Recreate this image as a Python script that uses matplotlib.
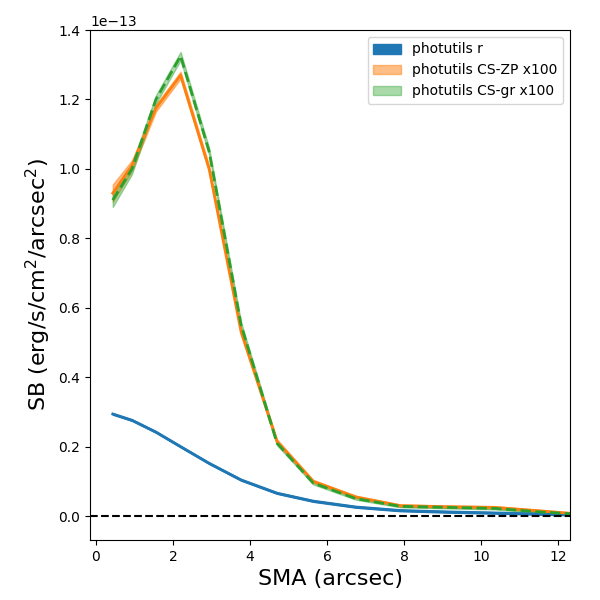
import matplotlib
matplotlib.use("Agg")
import matplotlib.pyplot as plt
import numpy as np

sma = [0.44, 0.94, 1.56, 2.2, 2.94, 3.77, 4.7, 5.64, 6.75, 7.9, 9.1, 10.35, 11.5, 12.4]
sb_r = [0.294, 0.276, 0.242, 0.2, 0.152, 0.104, 0.066, 0.043, 0.026, 0.016, 0.012, 0.009, 0.006, 0.004]
sb_zp = [0.93, 1.01, 1.175, 1.27, 1.0, 0.53, 0.215, 0.10, 0.055, 0.030, 0.027, 0.025, 0.015, 0.007]
sb_zp_err = [0.025, 0.015, 0.01, 0.01, 0.01, 0.008, 0.006, 0.004, 0.003, 0.003, 0.003, 0.003, 0.003, 0.003]
sb_gr = [0.91, 1.0, 1.2, 1.325, 1.05, 0.55, 0.21, 0.095, 0.05, 0.028, 0.025, 0.022, 0.012, 0.006]
sb_gr_err = [0.02, 0.015, 0.012, 0.012, 0.01, 0.008, 0.006, 0.004, 0.003, 0.003, 0.003, 0.003, 0.003, 0.003]

s = 1e-13
x = np.array(sma)
r = np.array(sb_r) * s
zp = np.array(sb_zp) * s; zpe = np.array(sb_zp_err) * s
gr = np.array(sb_gr) * s; gre = np.array(sb_gr_err) * s

fig = plt.figure(figsize=(6, 6), dpi=100)
ax = fig.add_axes([0.15, 0.1, 0.80, 0.85])
ax.fill_between(x, r - 0.002*s, r + 0.002*s, color='C0', label='photutils r')
ax.plot(x, r, color='C0', lw=2)
ax.fill_between(x, zp - zpe, zp + zpe, color='C1', alpha=0.5, label='photutils CS-ZP x100')
ax.plot(x, zp, color='C1', lw=2)
ax.fill_between(x, gr - gre, gr + gre, color='C2', alpha=0.4, label='photutils CS-gr x100')
ax.plot(x, gr, color='C2', lw=2, ls='--')
ax.axhline(0, color='k', ls='--')
ax.set_xlim(-0.15, 12.3)
ax.set_ylim(-0.069e-13, 1.40e-13)
ax.set_xlabel('SMA (arcsec)', fontsize=16)
ax.set_ylabel('SB (erg/s/cm$^2$/arcsec$^2$)', fontsize=16)
ax.legend(loc='upper right')
fig.savefig('out.png')
